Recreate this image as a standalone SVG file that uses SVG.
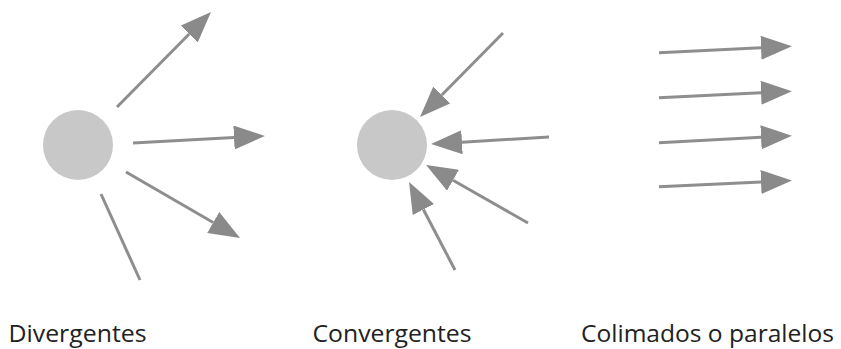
<svg xmlns="http://www.w3.org/2000/svg" width="841" height="349" viewBox="0 0 841 349">
<style>
.ray{stroke:#8e8e8f;stroke-width:3;fill:none;marker-end:url(#head)}
.plain{stroke:#8e8e8f;stroke-width:3;fill:none}
.src{fill:#c8c8c8}
.lbl{font-family:"Open Sans","Noto Sans",sans-serif;font-size:24.5px;fill:#222}
</style>
<defs>
<marker id="head" markerUnits="userSpaceOnUse" markerWidth="32" markerHeight="24" refX="0" refY="12" orient="auto" viewBox="0 0 32 24">
<path d="M0,0 L31,12 L0,24 z" fill="#8a8a8b"/>
</marker>
</defs>
<rect width="841" height="349" fill="#fff"/>
<g id="divergent-source"><circle class="src" cx="78" cy="145" r="35"/></g>
<g id="convergent-target"><circle class="src" cx="392" cy="145" r="35"/></g>
<g id="connectors">
<line class="ray" x1="117" y1="107" x2="189.2" y2="34"/>
<line class="ray" x1="133" y1="143" x2="234" y2="137.6"/>
<line class="ray" x1="126" y1="172" x2="213.2" y2="222.5"/>
<line class="plain" x1="101" y1="194" x2="140" y2="280"/>
<line class="ray" x1="503" y1="33" x2="441.8" y2="95"/>
<line class="ray" x1="549" y1="137" x2="462" y2="142.2"/>
<line class="ray" x1="528" y1="223" x2="453" y2="180.3"/>
<line class="ray" x1="455" y1="270" x2="423.4" y2="209.5"/>
<line class="ray" x1="659" y1="52.7" x2="761" y2="47.8"/>
<line class="ray" x1="659" y1="97.7" x2="761" y2="92.8"/>
<line class="ray" x1="659" y1="142.7" x2="761" y2="137.3"/>
<line class="ray" x1="659" y1="186.7" x2="761" y2="182"/>
</g>
<g id="labels">
<text class="lbl" x="8.5" y="341.5" textLength="138" lengthAdjust="spacingAndGlyphs">Divergentes</text>
<text class="lbl" x="312.5" y="341.5" textLength="159" lengthAdjust="spacingAndGlyphs">Convergentes</text>
<text class="lbl" x="581" y="341.5" textLength="253" lengthAdjust="spacingAndGlyphs">Colimados o paralelos</text>
</g>
</svg>
